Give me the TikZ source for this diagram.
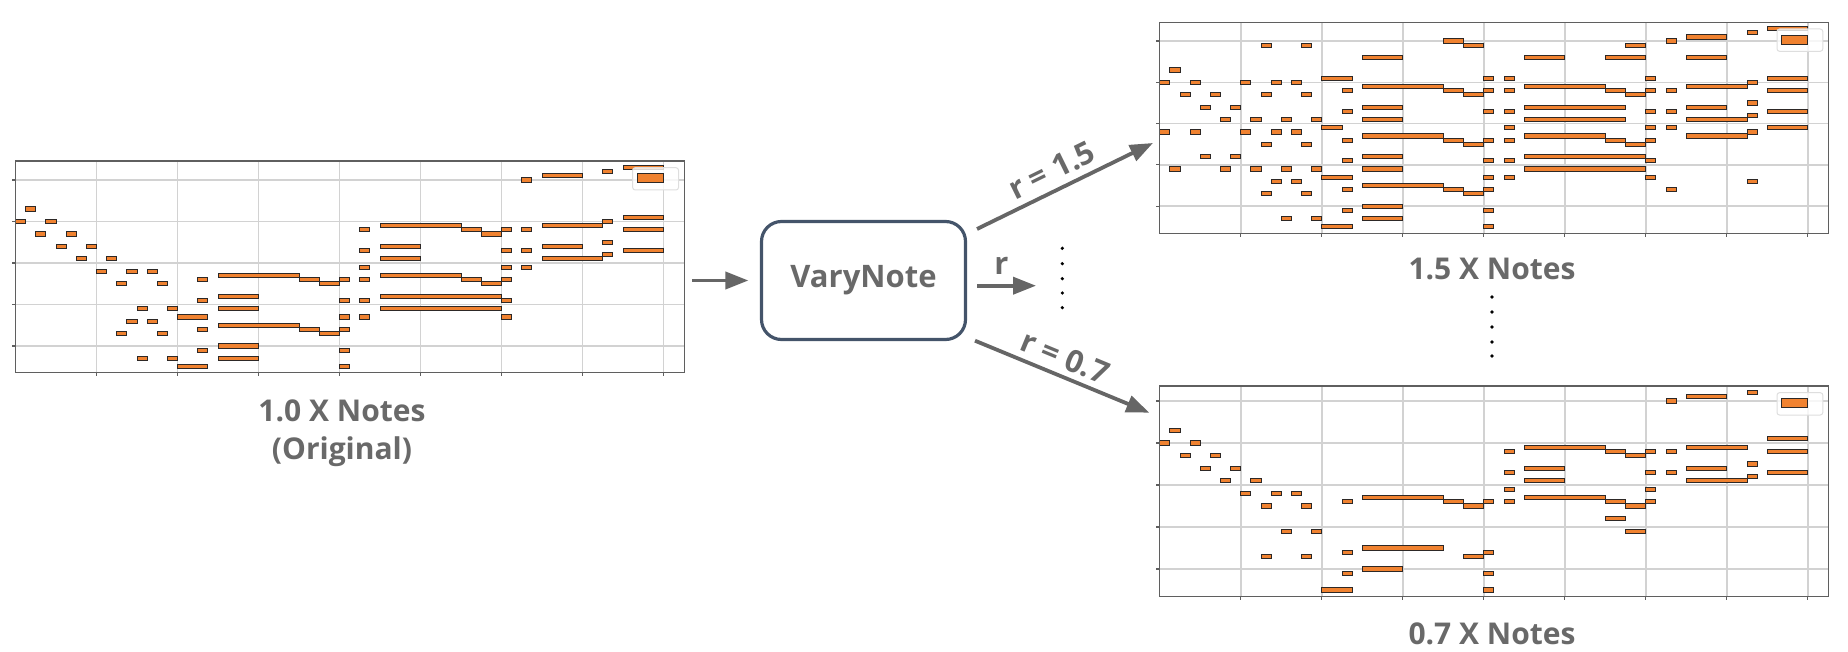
\documentclass[tikz,border=0pt]{standalone}
\usepackage{fontspec}
\setmainfont{Open Sans}
\usetikzlibrary{arrows.meta}
\definecolor{noteorange}{RGB}{240,130,48}
\definecolor{noteedge}{RGB}{45,40,38}
\definecolor{gridgray}{RGB}{210,210,210}
\definecolor{framegray}{RGB}{95,95,95}
\definecolor{arrowgray}{RGB}{102,102,102}
\definecolor{boxblue}{RGB}{68,84,106}
\definecolor{textgray}{RGB}{105,105,105}
\definecolor{legendedge}{RGB}{222,222,222}

\tikzset{
  gridline/.style={draw=gridgray, line width=1.4pt},
  tickmark/.style={draw=framegray, line width=1.1pt},
  pnote/.style={draw=noteedge, fill=noteorange, line width=0.9pt},
  plotframe/.style={draw=framegray, line width=1.3pt, inner sep=0pt, outer sep=0pt},
  legendbox/.style={draw=legendedge, fill=white, fill opacity=0.8, line width=1pt, rounded corners=2.5pt},
  lbl/.style={text=textgray, font=\bfseries\fontsize{30}{36}\selectfont, inner sep=0pt},
  arrlbl/.style={text=textgray, font=\bfseries\fontsize{31}{36}\selectfont, inner sep=0pt},
  flowarrow/.style={draw=arrowgray, line width=3.8pt, -{Triangle[length=23pt,width=17pt]}},
  varybox/.style={draw=boxblue, line width=3.2pt, rounded corners=20pt, minimum width=204pt, minimum height=118pt,
    text=textgray, font=\bfseries\fontsize{31}{36}\selectfont},
  dotmark/.style={fill=black}
}

% #1 name, #2 x0, #3 top, #4 bottom, #5 y of semitone 0, #6 semitone size, #7 notes t1/t2/pitch
\newcommand{\PRplot}[7]{%
  \foreach \kk in {0,...,4}{
    \draw[gridline] (#2,{#5+10*\kk*#6}) -- ({#2+669},{#5+10*\kk*#6});
    \draw[tickmark] (#2,{#5+10*\kk*#6}) -- ({#2-3.5},{#5+10*\kk*#6});
  }
  \foreach \kk in {1,...,8}{
    \draw[gridline] ({#2+81*\kk},#3) -- ({#2+81*\kk},#4);
    \draw[tickmark] ({#2+81*\kk},#4) -- ({#2+81*\kk},{#4+3.5});
  }
  \foreach \ta/\tb/\ps in {#7}{
    \draw[pnote] ({#2+10.125*\ta},{#5+#6*(\ps)-2.1}) rectangle ({#2+10.125*\tb},{#5+#6*(\ps)+2.1});
  }
  \node[plotframe, minimum width=669pt, minimum height={#4-#3}, anchor=north west] (#1) at (#2,#3) {};
  \draw[legendbox] ({#2+617.2},{#3+6.7}) rectangle ({#2+663},{#3+29});
  \draw[pnote] ({#2+621.8},{#3+12.7}) rectangle ({#2+647.8},{#3+21.7});
}

\begin{document}
\begin{tikzpicture}[x=1pt,y=-1pt]
\useasboundingbox (0,0) rectangle (1848,652);

% ---------- original (1.0x) ----------
\PRplot{plotL}{15.5}{161}{372.5}{180}{4.15}{0/1/10, 1/2/7, 2/3/13, 3/4/10, 4/5/16, 5/6/13, 6/7/19, 7/8/16, 8/9/22, 9/10/19, 10/11/25, 11/12/22, 12/13/31, 13/14/22, 14/15/25, 11/12/34, 10/11/37, 12/13/43, 13/14/34, 14/15/37, 15/16/31, 15/16/43, 16/19/33, 16/19/45, 18/19/24, 18/19/29, 18/19/36, 18/19/41, 20/28/23, 20/24/28, 20/24/31, 20/28/35, 20/24/40, 20/24/43, 28/30/24, 30/32/25, 28/30/36, 30/32/37, 32/33/24, 32/33/29, 32/33/33, 32/33/36, 32/33/41, 32/33/45, 34/35/12, 34/35/17, 34/35/21, 34/35/24, 34/35/29, 34/35/33, 36/44/11, 36/40/16, 36/40/19, 36/44/23, 36/48/28, 36/48/31, 44/46/12, 46/48/13, 44/46/24, 46/48/25, 48/49/12, 48/49/17, 48/49/21, 48/49/24, 48/49/29, 48/49/33, 50/51/0, 50/51/12, 50/51/17, 50/51/21, 52/56/-1, 52/58/11, 52/56/16, 52/58/19, 58/59/-2, 58/59/10, 58/59/15, 58/59/18, 60/64/-3, 60/64/9, 60/64/12, 60/64/17}

% ---------- 1.5x ----------
\PRplot{plotTR}{1159.8}{22.3}{233.3}{41}{4.13}{0/1/10, 1/2/7, 2/3/13, 3/4/10, 4/5/16, 5/6/13, 6/7/19, 7/8/16, 0/1/22, 1/2/31, 3/4/22, 4/5/28, 6/7/31, 7/8/28, 8/9/10, 10/11/1, 10/11/13, 9/10/19, 11/12/10, 12/13/19, 13/14/10, 14/15/1, 14/15/13, 15/16/19, 8/9/22, 10/11/25, 9/10/31, 11/12/22, 12/13/31, 13/14/22, 14/15/25, 15/16/31, 11/12/34, 10/11/37, 13/14/34, 14/15/37, 12/13/43, 15/16/43, 16/19/9, 16/18/21, 16/19/33, 16/19/45, 18/19/12, 18/19/17, 18/19/24, 18/19/29, 18/19/36, 18/19/41, 20/24/4, 20/28/11, 20/24/16, 20/24/19, 20/28/23, 20/24/28, 20/24/31, 20/28/35, 20/24/40, 20/24/43, 28/30/0, 30/32/1, 28/30/12, 30/32/13, 28/30/24, 30/32/25, 28/30/36, 30/32/37, 32/33/9, 32/33/12, 32/33/17, 32/33/24, 32/33/29, 32/33/33, 32/33/36, 32/33/41, 32/33/45, 34/35/9, 34/35/12, 34/35/17, 34/35/21, 34/35/24, 34/35/29, 34/35/33, 36/40/4, 36/44/11, 36/46/16, 36/46/19, 36/44/23, 36/48/28, 36/48/31, 44/48/4, 46/48/1, 44/46/12, 46/48/13, 44/46/24, 46/48/25, 48/49/9, 48/49/12, 48/49/17, 48/49/21, 48/49/24, 48/49/29, 48/49/33, 50/51/0, 50/51/12, 50/51/17, 50/51/21, 50/51/36, 52/56/-1, 52/56/4, 52/58/11, 52/56/16, 52/58/19, 52/58/23, 58/59/-2, 58/59/10, 58/59/15, 58/59/18, 58/59/22, 58/59/34, 60/64/-3, 60/64/9, 60/64/12, 60/64/17, 60/64/21}

% ---------- 0.7x ----------
\PRplot{plotBR}{1159.8}{386}{596.7}{401}{4.2}{0/1/10, 1/2/7, 2/3/13, 3/4/10, 4/5/16, 5/6/13, 6/7/19, 7/8/16, 8/9/22, 9/10/19, 10/11/25, 11/12/22, 13/14/22, 14/15/25, 12/13/31, 15/16/31, 10/11/37, 14/15/37, 16/19/45, 18/19/24, 18/19/36, 18/19/41, 20/28/23, 20/28/35, 20/24/40, 28/30/24, 30/32/25, 30/32/37, 32/33/24, 32/33/36, 32/33/41, 32/33/45, 34/35/12, 34/35/17, 34/35/21, 34/35/24, 36/44/11, 36/40/16, 36/40/19, 36/44/23, 44/46/12, 46/48/13, 44/46/24, 46/48/25, 44/46/28, 46/48/31, 48/49/12, 48/49/17, 48/49/21, 48/49/24, 50/51/0, 50/51/12, 50/51/17, 52/56/-1, 52/58/11, 52/56/16, 52/58/19, 58/59/-2, 58/59/15, 58/59/18, 60/64/9, 60/64/12, 60/64/17}

% ---------- captions ----------
\node[lbl, anchor=base] (capL1) at (342,421) {1.0 X Notes};
\node[lbl, anchor=base] (capL2) at (342,459) {(Original)};
\node[lbl, anchor=base] (capTR) at (1492,280) {1.5 X Notes};
\node[lbl, anchor=base] (capBR) at (1492,644) {0.7 X Notes};

% ---------- VaryNote ----------
\node[varybox] (vary) at (863.5,280.5) {VaryNote};

% ---------- connectors ----------
\coordinate (inS) at (692,280.5);
\draw[flowarrow] (inS) -- ([xshift=-11.5pt]vary.west);

\coordinate (upS) at (977,229);
\coordinate (upE) at (1153,143);
\draw[flowarrow] (upS) -- (upE);
\node[arrlbl, rotate=26.1] (lblUp) at (1051.7,170) {r = 1.5};

\coordinate (midS) at (977,285.7);
\coordinate (midE) at (1036,285.7);
\draw[flowarrow] (midS) -- (midE);
\node[arrlbl, anchor=base] (lblMid) at (1001.5,275) {r};

\coordinate (dnS) at (975,340.7);
\coordinate (dnE) at (1149.3,412.7);
\draw[flowarrow] (dnS) -- (dnE);
\node[arrlbl, rotate=-22.4] (lblDn) at (1065,357.3) {r = 0.7};

% ---------- ellipsis dots ----------
\foreach \yy in {248.3,263.7,278.7,293,307.7}{
  \fill[dotmark] (1062.3,\yy) circle (1.8pt);
}
\foreach \yy in {297,312,327,342,356}{
  \fill[dotmark] (1492,\yy) circle (1.8pt);
}
\end{tikzpicture}
\end{document}
